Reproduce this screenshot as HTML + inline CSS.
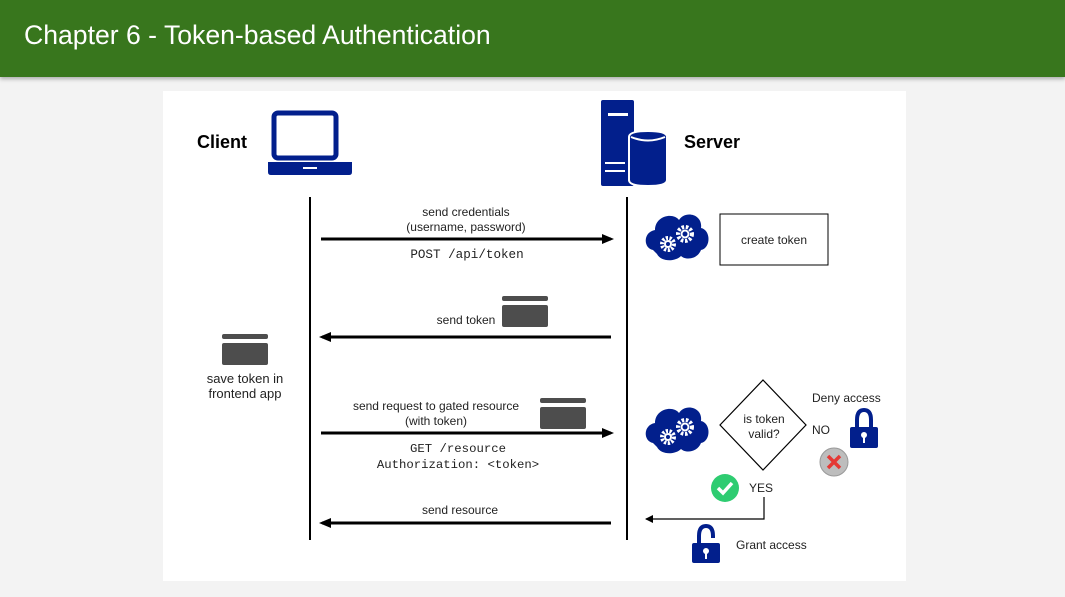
<!DOCTYPE html>
<html><head><meta charset="utf-8"><style>
html,body{margin:0;padding:0;width:1065px;height:597px;overflow:hidden;background:#f3f3f3;}
.hdr{position:absolute;left:0;top:0;width:1065px;height:77px;background:#38761d;box-shadow:0 2px 4px rgba(0,0,0,.3);}
.hdr span{position:absolute;left:24px;top:20px;color:#fff;font:26.6px "Liberation Sans",sans-serif;}
svg{position:absolute;left:0;top:0;}
</style></head><body>
<div class="hdr"><span>Chapter 6 - Token-based Authentication</span></div>
<svg width="1065" height="597" viewBox="0 0 1065 597" font-family="Liberation Sans, sans-serif">
<defs>
<marker id="a" markerWidth="12" markerHeight="10" refX="9" refY="5" orient="auto" markerUnits="userSpaceOnUse"><path d="M0,0 L12,5 L0,10 z" fill="#000"/></marker>
<marker id="s" markerWidth="8" markerHeight="8" refX="7" refY="4" orient="auto" markerUnits="userSpaceOnUse"><path d="M0,0 L8,4 L0,8 z" fill="#000"/></marker>
<g id="cloud"><path d="M8,40 C-2,38 -2,22 10,20 C10,6 28,2 34,10 C40,0 58,4 56,18 C66,20 66,38 56,40 C52,50 40,50 36,46 C30,52 16,52 12,44 Z" fill="#021f8c"/>
<circle cx="23" cy="34" r="6" fill="none" stroke="#fff" stroke-width="4" stroke-dasharray="2.2 1.5"/><circle cx="23" cy="34" r="3" fill="none" stroke="#fff" stroke-width="2"/>
<circle cx="40" cy="24" r="7" fill="none" stroke="#fff" stroke-width="4" stroke-dasharray="2.5 1.7"/><circle cx="40" cy="24" r="3.5" fill="none" stroke="#fff" stroke-width="2"/></g>
<g id="card"><rect x="0" y="0" width="46" height="5" rx="2" fill="#4d4d4d"/><rect x="0" y="9" width="46" height="22" rx="2" fill="#4d4d4d"/></g>
</defs>
<rect x="163" y="91" width="743" height="490" fill="#fff"/>
<text x="197" y="148" font-size="18" font-weight="bold">Client</text>
<text x="684" y="148" font-size="18" font-weight="bold">Server</text>
<!-- laptop -->
<rect x="274" y="113" width="62" height="45" rx="4" fill="none" stroke="#021f8c" stroke-width="5"/>
<path d="M268,162 H352 V172 Q352,175 349,175 H271 Q268,175 268,172 Z" fill="#021f8c"/>
<rect x="303" y="167" width="14" height="2" fill="#fff"/>
<!-- server -->
<rect x="601" y="100" width="33" height="86" rx="2" fill="#021f8c"/>
<rect x="608" y="113" width="20" height="3" fill="#fff"/>
<rect x="605" y="162" width="20" height="2" fill="#fff"/><rect x="605" y="170" width="20" height="2" fill="#fff"/>
<path d="M629,137 Q629,131 648,131 Q667,131 667,137 V180 Q667,186 648,186 Q629,186 629,180 Z" fill="#021f8c" stroke="#fff" stroke-width="2"/>
<path d="M631,137 Q648,144 665,137" fill="none" stroke="#fff" stroke-width="2"/>
<!-- lifelines -->
<line x1="310" y1="197" x2="310" y2="540" stroke="#000" stroke-width="2"/>
<line x1="627" y1="197" x2="627" y2="540" stroke="#000" stroke-width="2"/>
<!-- arrows -->
<line x1="321" y1="239" x2="611" y2="239" stroke="#000" stroke-width="3" marker-end="url(#a)"/>
<line x1="611" y1="337" x2="322" y2="337" stroke="#000" stroke-width="3" marker-end="url(#a)"/>
<line x1="321" y1="433" x2="611" y2="433" stroke="#000" stroke-width="3" marker-end="url(#a)"/>
<line x1="611" y1="523" x2="322" y2="523" stroke="#000" stroke-width="3" marker-end="url(#a)"/>
<rect x="720" y="214" width="108" height="51" fill="#fff" stroke="#000" stroke-width="1"/>
<path d="M763,380 L806,425 L763,470 L720,425 Z" fill="#fff" stroke="#000" stroke-width="1.2"/>
<g font-size="12" text-anchor="middle" fill="#222">
<text x="466" y="216">send credentials</text>
<text x="466" y="231">(username, password)</text>
<text x="467" y="258" font-family="Liberation Mono, monospace" font-size="12.6">POST /api/token</text>
<text x="466" y="324">send token</text>
<text x="436" y="410">send request to gated resource</text>
<text x="436" y="425">(with token)</text>
<text x="458" y="452" font-family="Liberation Mono, monospace" font-size="12.3">GET /resource</text>
<text x="458" y="468" font-family="Liberation Mono, monospace" font-size="12.3">Authorization: &lt;token&gt;</text>
<text x="460" y="514">send resource</text>
<text x="245" y="383" font-size="13">save token in</text>
<text x="245" y="398" font-size="13">frontend app</text>
<text x="774" y="244">create token</text>
<text x="764" y="423">is token</text>
<text x="764" y="438">valid?</text>
</g>
<use href="#card" x="502" y="296"/>
<use href="#card" x="222" y="334"/>
<use href="#card" x="540" y="398"/>
<use href="#cloud" x="645" y="210"/>
<use href="#cloud" x="645" y="403"/>
<text x="812" y="402" font-size="12" fill="#222">Deny access</text>
<text x="812" y="434" font-size="12" fill="#222">NO</text>
<text x="749" y="492" font-size="12" fill="#222">YES</text>
<text x="736" y="549" font-size="12" fill="#222">Grant access</text>
<!-- closed lock -->
<path d="M857,428 V420 Q857,410 864,410 Q871,410 871,420 V428" fill="none" stroke="#021f8c" stroke-width="4"/>
<rect x="850" y="427" width="28" height="21" rx="2" fill="#021f8c"/>
<circle cx="864" cy="435" r="3" fill="#fff"/><rect x="863" y="435" width="2" height="8" fill="#fff"/>
<!-- open lock -->
<path d="M699,545 V536 Q699,526 706,526 Q713,526 713,536 V538" fill="none" stroke="#021f8c" stroke-width="4"/>
<rect x="692" y="543" width="28" height="20" rx="2" fill="#021f8c"/>
<circle cx="706" cy="551" r="3" fill="#fff"/><rect x="705" y="551" width="2" height="8" fill="#fff"/>
<!-- check -->
<circle cx="725" cy="488" r="14" fill="#2ecc71"/>
<path d="M718,488 L723,493 L732,483" fill="none" stroke="#fff" stroke-width="3.5"/>
<!-- x -->
<circle cx="834" cy="462" r="14" fill="#bdbdbd" stroke="#999"/>
<path d="M828,456 L840,468 M840,456 L828,468" stroke="#e53935" stroke-width="3.5"/>
<!-- yes connector -->
<path d="M764,497 V519 H646" fill="none" stroke="#000" stroke-width="1.2" marker-end="url(#s)"/>
</svg>
</body></html>
